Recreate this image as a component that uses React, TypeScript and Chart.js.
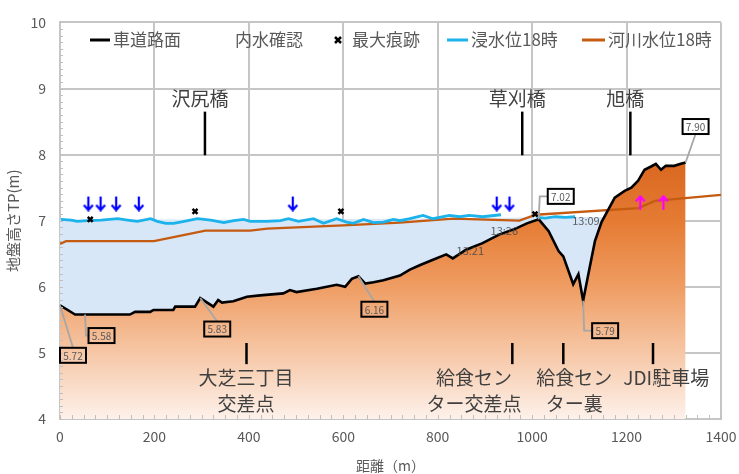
import React, { useEffect, useRef } from "react";
import { Chart, registerables } from "chart.js";
Chart.register(...registerables);

const FONT = '"Noto Sans CJK JP", "Noto Sans", sans-serif';

// 車道路面 (distance m, TP m)
const groundX = [0, 32, 148, 159, 191, 198, 240, 244, 286, 297, 325, 335, 343, 367, 396, 424, 473, 487, 501, 544, 586, 604, 618, 632, 646, 664, 685, 720, 741, 763, 790, 818, 832, 860, 895, 930, 965, 989, 1014, 1035, 1056, 1066, 1087, 1098, 1108, 1119, 1133, 1147, 1175, 1196, 1210, 1224, 1238, 1252, 1262, 1273, 1283, 1301, 1315, 1325];
const groundY = [5.72, 5.58, 5.58, 5.62, 5.62, 5.65, 5.65, 5.70, 5.70, 5.83, 5.70, 5.80, 5.76, 5.78, 5.85, 5.87, 5.90, 5.95, 5.92, 5.97, 6.03, 6.00, 6.12, 6.16, 6.05, 6.07, 6.10, 6.17, 6.26, 6.33, 6.41, 6.49, 6.43, 6.56, 6.66, 6.79, 6.88, 6.96, 7.02, 6.84, 6.54, 6.46, 6.04, 6.19, 5.79, 6.19, 6.69, 6.98, 7.35, 7.45, 7.50, 7.60, 7.77, 7.82, 7.86, 7.77, 7.83, 7.83, 7.86, 7.88];

// 浸水位18時
const waterX = [2, 23, 37, 58, 87, 122, 143, 164, 192, 206, 224, 241, 263, 291, 319, 347, 368, 389, 403, 439, 467, 484, 505, 537, 558, 586, 607, 621, 643, 664, 685, 706, 720, 741, 769, 790, 825, 846, 867, 895, 934, 970, 1010, 1028, 1049, 1070, 1091];
const waterY = [7.02, 7.01, 6.99, 7.0, 7.01, 7.03, 7.01, 6.99, 7.03, 6.99, 6.96, 6.96, 6.99, 7.03, 7.01, 6.97, 7.0, 7.02, 6.99, 6.99, 7.0, 7.03, 6.99, 7.03, 6.96, 7.03, 6.98, 6.96, 7.02, 6.97, 6.98, 7.02, 7.0, 7.03, 7.08, 7.03, 7.08, 7.06, 7.08, 7.06, 7.09, null, 7.05, 7.04, 7.06, 7.05, 7.06];

// 浸水範囲（塗り）上端
const floodTopX = [0, 500, 1000, 1160];
const floodTopY = [7.02, 7.02, 7.05, 7.06];

// 河川水位18時
const riverX = [0, 13, 199, 308, 403, 439, 600, 720, 833, 973, 1008, 1225, 1260, 1400];
const riverY = [6.65, 6.69, 6.69, 6.85, 6.85, 6.88, 6.93, 6.97, 7.03, 7.0, 7.09, 7.19, 7.3, 7.39];

// 最大痕跡
const traceX = [64, 286, 595, 1006];
const traceY = [7.02, 7.14, 7.14, 7.1];

// 内水確認 (blue arrows) and upward arrows (magenta)
const inlandX = [60, 86, 119, 167, 493, 925, 952];
const inlandY = [7.26, 7.26, 7.26, 7.26, 7.26, 7.26, 7.26];
const upX = [1229, 1278];
const upY = [7.27, 7.27];

// value callouts
const calloutText = ["5.72", "5.58", "5.83", "6.16", "7.02", "5.79", "7.90"];
const calloutX = [0, 53, 297, 632, 1014, 1108, 1325];
const calloutY = [5.72, 5.58, 5.83, 6.16, 7.02, 5.79, 7.88];

// time labels
const timeText = ["13:26", "13:21", "13:09"];
const timeX = [941, 869, 1114];
const timeY = [6.85, 6.54, 7.0];

// place names
const topPlaces = ["沢尻橋", "草刈橋", "旭橋"];
const topPlaceX = [307, 979, 1208];
const bottomPlaces = [["大芝三丁目", "交差点"], ["給食セン", "ター交差点"], ["給食セン", "ター裏"], ["JDI駐車場"]];
const bottomPlaceX = [395, 958, 1066, 1256];
const bottomTextX = [394, 877, 1089, 1284];

const xTickStep = 200;
const yTickStep = 1;

const pts = (xs: number[], ys: (number | null)[]) => xs.map((x, i) => ({ x, y: ys[i] }));

function makeArrow(color: string, up: boolean) {
  const c = document.createElement("canvas");
  c.width = 12;
  c.height = 16;
  const g = c.getContext("2d")!;
  g.strokeStyle = color;
  g.lineWidth = 2.2;
  g.beginPath();
  if (!up) {
    g.moveTo(6, 1); g.lineTo(6, 14.5);
    g.moveTo(1.5, 9.5); g.lineTo(6, 14.5); g.lineTo(10.5, 9.5);
  } else {
    g.moveTo(6, 15); g.lineTo(6, 1.5);
    g.moveTo(1.5, 6.5); g.lineTo(6, 1.5); g.lineTo(10.5, 6.5);
  }
  g.stroke();
  return c;
}

const overlay = {
  id: "overlay",
  afterDraw(chart: any) {
    const { ctx, scales } = chart;
    const xs = scales.x, ys = scales.y;
    const area = chart.chartArea;
    ctx.save();

    // minor ticks
    ctx.strokeStyle = "#BFBFBF";
    ctx.lineWidth = 1;
    for (let v = 0; v <= 1400; v += 25) {
      const px = Math.round(xs.getPixelForValue(v)) + 0.5;
      ctx.beginPath(); ctx.moveTo(px, area.bottom); ctx.lineTo(px, area.bottom - 4); ctx.stroke();
    }
    for (let v = 4; v <= 10.001; v += 0.1) {
      const py = Math.round(ys.getPixelForValue(v)) + 0.5;
      ctx.beginPath(); ctx.moveTo(area.left, py); ctx.lineTo(area.left + 3, py); ctx.stroke();
    }

    // place names
    ctx.fillStyle = "#404040";
    ctx.strokeStyle = "#000";
    ctx.lineWidth = 2.5;
    ctx.font = `19px ${FONT}`;
    ctx.textAlign = "center";
    ctx.textBaseline = "middle";
    topPlaces.forEach((t, i) => {
      const px = xs.getPixelForValue(topPlaceX[i]);
      ctx.beginPath(); ctx.moveTo(px, ys.getPixelForValue(8.65)); ctx.lineTo(px, ys.getPixelForValue(7.99)); ctx.stroke();
      ctx.fillText(t, px - 5, ys.getPixelForValue(8.84));
    });
    bottomPlaces.forEach((lines, i) => {
      const px = xs.getPixelForValue(bottomPlaceX[i]);
      ctx.beginPath(); ctx.moveTo(px, ys.getPixelForValue(5.15)); ctx.lineTo(px, ys.getPixelForValue(4.83)); ctx.stroke();
      const tx = xs.getPixelForValue(bottomTextX[i]);
      lines.forEach((l, j) => ctx.fillText(l, tx, ys.getPixelForValue(4.63) + j * 26.5));
    });

    // time labels
    ctx.font = `11px ${FONT}`;
    ctx.fillStyle = "rgba(70,70,70,0.85)";
    timeText.forEach((t, i) => ctx.fillText(t, xs.getPixelForValue(timeX[i]), ys.getPixelForValue(timeY[i])));

    // callouts: [dx, dy, elbow]
    const offs: [number, number, boolean][] = [
      [13, 50, false], [16.5, 21, true], [17, 31, false], [16, 33, false], [22, -23, true], [22, 30, true], [10, -36, false],
    ];
    const bw = 26, bh = 15;
    calloutText.forEach((t, i) => {
      const ax = xs.getPixelForValue(calloutX[i]);
      const ay = ys.getPixelForValue(calloutY[i]);
      const [dx, dy, elbow] = offs[i];
      const cx = ax + dx, cy = ay + dy;
      ctx.strokeStyle = "#A6A6A6";
      ctx.lineWidth = 1.8;
      ctx.beginPath();
      ctx.moveTo(ax, ay);
      if (elbow) {
        ctx.lineTo(ax + 1, cy);
        ctx.lineTo(cx - bw / 2, cy);
      } else {
        ctx.lineTo(cx, dy > 0 ? cy - bh / 2 : cy + bh / 2);
      }
      ctx.stroke();
      ctx.strokeStyle = "#000";
      ctx.lineWidth = 2;
      ctx.strokeRect(cx - bw / 2, cy - bh / 2, bw, bh);
      ctx.fillStyle = "#595959";
      ctx.font = `10px ${FONT}`;
      ctx.fillText(t, cx, cy + 0.5);
    });

    // legend
    const ly = 40;
    ctx.font = `17px ${FONT}`;
    ctx.textAlign = "left";
    ctx.fillStyle = "#595959";
    const line = (x1: number, x2: number, c: string) => {
      ctx.strokeStyle = c; ctx.lineWidth = 3;
      ctx.beginPath(); ctx.moveTo(x1, ly); ctx.lineTo(x2, ly); ctx.stroke();
    };
    line(90, 110, "#000000");
    ctx.fillText("車道路面", 113, ly);
    ctx.fillText("内水確認", 235, ly);
    ctx.strokeStyle = "#000"; ctx.lineWidth = 2.5;
    ctx.beginPath(); ctx.moveTo(335, ly - 3); ctx.lineTo(341, ly + 3); ctx.moveTo(341, ly - 3); ctx.lineTo(335, ly + 3); ctx.stroke();
    ctx.fillText("最大痕跡", 352, ly);
    line(447, 468, "#1CB2EA");
    ctx.fillText("浸水位18時", 471, ly);
    line(582, 605, "#C55A11");
    ctx.fillText("河川水位18時", 608, ly);

    ctx.restore();
  },
};

export default function App() {
  const ref = useRef<HTMLCanvasElement>(null);
  useEffect(() => {
    if (!ref.current) return;
    const downArrow = makeArrow("#0000FF", false);
    const upArrow = makeArrow("#FF00FF", true);
    const groundFill = (c: any) => {
      const chart = c.chart;
      const y = chart.scales?.y;
      if (!chart.chartArea || !y) return "rgba(240,150,90,0.6)";
      const g = chart.ctx.createLinearGradient(0, y.getPixelForValue(8), 0, y.getPixelForValue(4));
      g.addColorStop(0, "#D8651E");
      g.addColorStop(0.25, "#E57B33");
      g.addColorStop(0.5, "#EF9D63");
      g.addColorStop(0.75, "#F6C7A6");
      g.addColorStop(1, "#FDF1EA");
      return g;
    };
    const chart = new Chart(ref.current, {
      type: "line",
      data: {
        datasets: [
          { label: "車道路面", data: pts(groundX, groundY), borderColor: "#000", borderWidth: 2.6, pointRadius: 0, fill: "start", backgroundColor: groundFill, tension: 0 },
          { label: "浸水範囲", data: pts(floodTopX, floodTopY), borderWidth: 0, borderColor: "rgba(0,0,0,0)", pointRadius: 0, fill: { target: 0, above: "#D7E7F7", below: "rgba(0,0,0,0)" } },
          { label: "内水確認", data: pts(inlandX, inlandY), showLine: false, pointStyle: downArrow, pointRadius: 6 },
          { label: "内水確認(上)", data: pts(upX, upY), showLine: false, pointStyle: upArrow, pointRadius: 6 },
          { label: "最大痕跡", data: pts(traceX, traceY), showLine: false, pointStyle: "crossRot", pointRadius: 3.5, borderColor: "#000", borderWidth: 2.5 },
          { label: "浸水位18時", data: pts(waterX, waterY), borderColor: "#1CB2EA", borderWidth: 2.8, pointRadius: 0, spanGaps: false, tension: 0 },
          { label: "河川水位18時", data: pts(riverX, riverY), borderColor: "#C55A11", borderWidth: 2.3, pointRadius: 0, tension: 0 },
        ],
      },
      options: {
        responsive: false,
        animation: false,
        layout: { padding: { top: 18, right: 18, left: 0, bottom: 0 } },
        plugins: {
          legend: { display: false },
          tooltip: { enabled: false },
          filler: { drawTime: "beforeDatasetsDraw" },
        },
        scales: {
          x: {
            type: "linear",
            min: 0,
            max: 1400,
            ticks: { stepSize: xTickStep, color: "#595959", font: { family: FONT, size: 14 }, padding: 9, maxRotation: 0, callback: (v: any) => String(v) },
            grid: { color: "#C6C6C6", lineWidth: 2, drawTicks: false },
            border: { color: "#C6C6C6", width: 2 },
            title: { display: true, text: "距離（m）", color: "#595959", font: { family: FONT, size: 14 }, padding: { top: 0, bottom: 0 } },
            afterFit: (s: any) => { s.height = 55; s.paddingRight = 0; },
          },
          y: {
            type: "linear",
            min: 4,
            max: 10,
            ticks: { stepSize: yTickStep, color: "#595959", font: { family: FONT, size: 14 }, padding: 14, callback: (v: any) => String(v) },
            grid: { color: "#C6C6C6", lineWidth: 2, drawTicks: false },
            border: { color: "#C6C6C6", width: 2 },
            title: { display: true, text: "地盤高さTP(m)", color: "#595959", font: { family: FONT, size: 15 }, padding: { top: 4, bottom: 0 } },
            afterFit: (s: any) => { s.width = 60; },
          },
        },
      },
      plugins: [overlay],
    } as any);
    return () => chart.destroy();
  }, []);
  return (
    <div style={{ position: "absolute", left: 0, top: 0, width: 739, height: 474, background: "#fff" }}>
      <canvas ref={ref} width={739} height={474} />
    </div>
  );
}
